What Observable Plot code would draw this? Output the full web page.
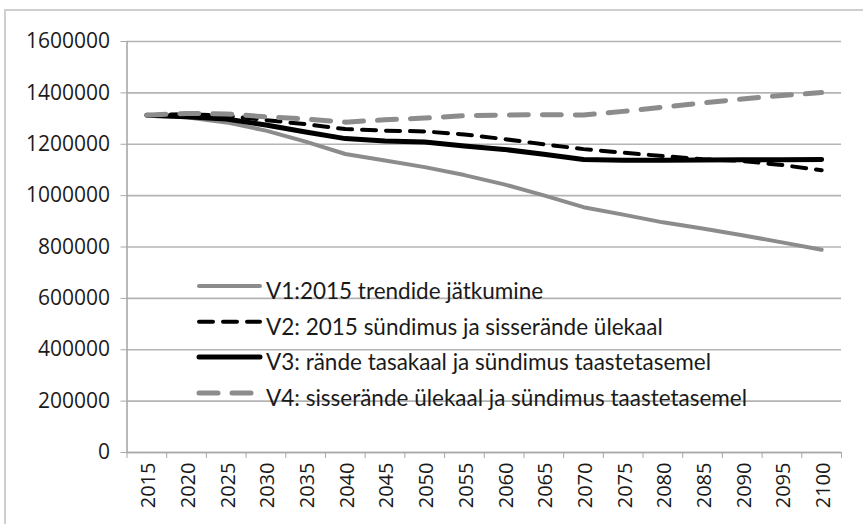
<!DOCTYPE html>
<html><head><meta charset="utf-8">
<script src="https://cdn.jsdelivr.net/npm/d3@7"></script>
<script src="https://cdn.jsdelivr.net/npm/@observablehq/plot@0.6"></script>
<style>
body{margin:0;background:#fff;}
#wrap{position:relative;width:863px;height:524px;overflow:hidden;background:#fff;}
#frame{position:absolute;left:4px;top:9px;width:900px;height:600px;border:2px solid #cfcfcf;box-sizing:border-box;}
#chart{position:absolute;left:0;top:0;}
#legend{position:absolute;left:0;top:0;}
</style></head><body>
<div id="wrap"><div id="frame"></div><div id="chart"></div><svg id="legend" width="863" height="524"></svg></div>
<script>
const years = [2015,2020,2025,2030,2035,2040,2045,2050,2055,2060,2065,2070,2075,2080,2085,2090,2095,2100];
const v1 = [1313000,1305000,1285000,1253000,1210000,1162000,1137000,1111000,1080000,1044000,1001000,955000,926000,896000,872000,846000,818000,789000];
const v2 = [1313000,1317000,1311000,1294000,1278000,1259000,1253000,1250000,1238000,1220000,1200000,1181000,1167000,1154000,1142000,1135000,1119000,1099000];
const v3 = [1313000,1307000,1298000,1275000,1248000,1222000,1213000,1209000,1193000,1180000,1161000,1141000,1138000,1138000,1139000,1140000,1140000,1141000];
const v4 = [1313000,1320000,1318000,1307000,1298000,1286000,1295000,1302000,1311000,1314000,1315000,1314000,1328000,1344000,1361000,1376000,1390000,1401000];
const seriesNames = ["V1:2015 trendide jätkumine","V2: 2015 sündimus ja sisserände ülekaal","V3: rände tasakaal ja sündimus taastetasemel","V4: sisserände ülekaal ja sündimus taastetasemel"];
const yTicks = [0,200000,400000,600000,800000,1000000,1200000,1400000,1600000];

const styles = [
  {stroke:"#8c8c8c", strokeWidth:4, dash:null},
  {stroke:"#000000", strokeWidth:4, dash:"14,10"},
  {stroke:"#000000", strokeWidth:5, dash:null},
  {stroke:"#8c8c8c", strokeWidth:5, dash:"19,14"}
];
const values = [v1,v2,v3,v4];
const tables = values.map((vals,k)=>years.map((yr,i)=>({series:seriesNames[k], year:yr, value:vals[i]})));
const boundaries = years.map(y=>y-2.5).concat([years[years.length-1]+2.5]);

const lineMarks = tables.map((t,k)=>Plot.line(t,{x:"year",y:"value",stroke:styles[k].stroke,strokeWidth:styles[k].strokeWidth,strokeDasharray:styles[k].dash||undefined,strokeLinecap:"round",strokeLinejoin:"round"}));

const chart = Plot.plot({
  width:863, height:524,
  marginLeft:126.5, marginRight:22, marginTop:41, marginBottom:72,
  style:{fontFamily:"'Open Sans', sans-serif", background:"transparent", color:"#1a1a1a", overflow:"visible"},
  x:{domain:[boundaries[0], boundaries[boundaries.length-1]]},
  y:{domain:[0,1600000]},
  marks:[
    Plot.gridY(yTicks,{stroke:"#b4b4b4", strokeOpacity:1, strokeWidth:1.6}),
    Plot.ruleX([boundaries[0]],{stroke:"#a8a8a8", strokeWidth:1.6}),
    Plot.ruleY([0],{stroke:"#a8a8a8", strokeWidth:1.6}),
    Plot.axisY(yTicks,{tickSize:6, tickPadding:11, tickFormat:d=>String(d), fontSize:21, stroke:"#a8a8a8", label:null}),
    Plot.axisX(boundaries,{tickSize:6, tickFormat:()=>"", label:null, stroke:"#a8a8a8"}),
    Plot.axisX(years,{tickSize:0, tickPadding:10, tickRotate:-90, tickFormat:d=>String(d), fontSize:20, label:null, dx:2}),
    ...lineMarks
  ]
});
document.getElementById("chart").appendChild(chart);

// legend
const lg = d3.select("#legend");
const rowY = [286, 321.7, 357, 393];
const textBase = [299, 334.5, 370, 405.5];
seriesNames.forEach((name,k)=>{
  const st = styles[k];
  lg.append("line").attr("x1",199).attr("x2",260).attr("y1",rowY[k]).attr("y2",rowY[k])
    .attr("stroke",st.stroke).attr("stroke-width",st.strokeWidth)
    .attr("stroke-dasharray",st.dash).attr("stroke-linecap","round");
  lg.append("text").attr("x",266).attr("y",textBase[k]).text(name)
    .attr("font-family","Lato, sans-serif").attr("font-size",22.5).attr("fill","#1a1a1a");
});
</script>
</body></html>
